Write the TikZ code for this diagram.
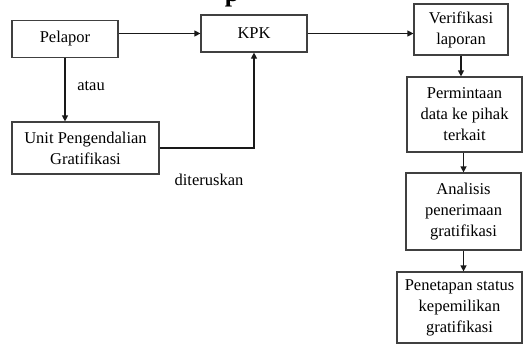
\documentclass[tikz,border=0pt]{standalone}
\usepackage{fontspec}
\setmainfont{Liberation Serif}
\usetikzlibrary{arrows.meta}
\begin{document}
\begin{tikzpicture}[x=1pt,y=-1pt,
  box/.style={draw=black!75, line width=1.2pt, fill=white, align=center,
    font=\fontsize{16.5}{21}\selectfont, inner sep=0pt},
  arr/.style={-{Triangle[length=6pt,width=6pt]}, line width=1.2pt, draw=black!90},
  lbl/.style={font=\fontsize{16.5}{21}\selectfont, inner sep=0pt}]
\useasboundingbox (0,0) rectangle (526,345);
\node[anchor=base, font=\bfseries\fontsize{26}{26}\selectfont, inner sep=0pt] (ttl) at (232,2) {p};
\node[box, minimum width=106pt, minimum height=37pt] (pel) at (65,39) {Pelapor};
\node[box, minimum width=106pt, minimum height=37pt] (kpk) at (254,33.5) {KPK};
\node[box, minimum width=94pt, minimum height=51pt] (ver) at (461,29.5) {Verifikasi\\laporan};
\node[box, minimum width=115pt, minimum height=75pt] (per) at (464.5,114.5) {Permintaan\\data ke pihak\\terkait};
\node[box, minimum width=115pt, minimum height=77pt] (ana) at (463.5,211.5) {Analisis\\penerimaan\\gratifikasi};
\node[box, minimum width=125pt, minimum height=71pt] (pen) at (459.5,307.5) {Penetapan status\\kepemilikan\\gratifikasi};
\node[box, minimum width=147pt, minimum height=52pt] (upg) at (85.5,148) {Unit Pengendalian\\Gratifikasi};
\node[lbl] (atau) at (91,86) {atau};
\node[lbl] (dit) at (209,180) {diteruskan};
\draw[arr] (pel.east |- kpk.west) -- (kpk.west);
\draw[arr] (kpk.east) -- (ver.west |- kpk.east);
\draw[arr] (pel.south) -- (pel.south |- upg.north);
\draw[arr] (upg.east) -| (kpk.south);
\draw[arr] (ver.south) -- (ver.south |- per.north);
\draw[arr] (per.south -| ana.north) -- (ana.north);
\draw[arr] (ana.south) -- (ana.south |- pen.north);
\end{tikzpicture}
\end{document}
